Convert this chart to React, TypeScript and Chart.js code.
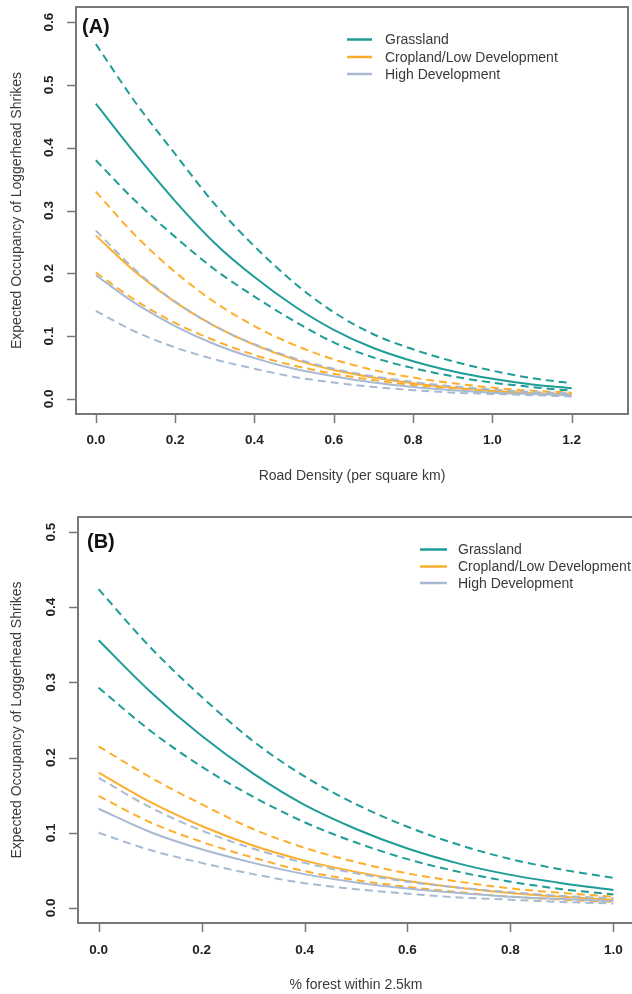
import { useEffect, useRef } from "react";
import { Chart, registerables } from "chart.js";

Chart.register(...registerables);

// ---- Panel A: occupancy vs. road density ----
const ROAD_DENSITY = [0, 0.1, 0.2, 0.3, 0.4, 0.5, 0.6, 0.7, 0.8, 0.9, 1.0, 1.1, 1.2];
const GRASS_ROAD = [0.470, 0.390, 0.315, 0.248, 0.194, 0.148, 0.110, 0.081, 0.060, 0.044, 0.032, 0.023, 0.017];
const GRASS_ROAD_UPPER = [0.565, 0.472, 0.390, 0.310, 0.243, 0.185, 0.138, 0.103, 0.079, 0.060, 0.045, 0.033, 0.025];
const GRASS_ROAD_LOWER = [0.380, 0.315, 0.258, 0.206, 0.163, 0.124, 0.090, 0.066, 0.049, 0.036, 0.026, 0.019, 0.013];
const CROP_ROAD = [0.260, 0.202, 0.154, 0.116, 0.086, 0.063, 0.046, 0.034, 0.025, 0.018, 0.013, 0.009, 0.007];
const CROP_ROAD_UPPER = [0.330, 0.260, 0.202, 0.154, 0.116, 0.086, 0.063, 0.046, 0.034, 0.025, 0.018, 0.013, 0.010];
const CROP_ROAD_LOWER = [0.201, 0.157, 0.121, 0.093, 0.070, 0.053, 0.040, 0.030, 0.022, 0.017, 0.012, 0.009, 0.007];
const HIGH_ROAD = [0.197, 0.152, 0.116, 0.087, 0.065, 0.048, 0.036, 0.026, 0.019, 0.014, 0.010, 0.008, 0.006];
const HIGH_ROAD_UPPER = [0.268, 0.205, 0.155, 0.116, 0.087, 0.065, 0.048, 0.036, 0.027, 0.020, 0.015, 0.011, 0.009];
const HIGH_ROAD_LOWER = [0.140, 0.107, 0.082, 0.063, 0.048, 0.035, 0.026, 0.019, 0.014, 0.010, 0.008, 0.006, 0.004];
const ROAD_TICKS = [0, 0.2, 0.4, 0.6, 0.8, 1.0, 1.2];
const OCC_TICKS_A = [0, 0.1, 0.2, 0.3, 0.4, 0.5, 0.6];

// ---- Panel B: occupancy vs. forest cover ----
const FOREST_COVER = [0, 0.1, 0.2, 0.3, 0.4, 0.5, 0.6, 0.7, 0.8, 0.9, 1.0];
const GRASS_FOREST = [0.356, 0.288, 0.229, 0.179, 0.137, 0.105, 0.079, 0.059, 0.044, 0.033, 0.024];
const GRASS_FOREST_UPPER = [0.424, 0.347, 0.281, 0.222, 0.175, 0.138, 0.108, 0.084, 0.065, 0.051, 0.040];
const GRASS_FOREST_LOWER = [0.293, 0.236, 0.188, 0.148, 0.114, 0.087, 0.065, 0.048, 0.035, 0.025, 0.018];
const CROP_FOREST = [0.180, 0.141, 0.109, 0.083, 0.063, 0.048, 0.036, 0.027, 0.020, 0.015, 0.011];
const CROP_FOREST_UPPER = [0.215, 0.174, 0.138, 0.105, 0.080, 0.061, 0.046, 0.035, 0.026, 0.020, 0.015];
const CROP_FOREST_LOWER = [0.149, 0.114, 0.088, 0.067, 0.049, 0.037, 0.028, 0.021, 0.015, 0.011, 0.008];
const HIGH_FOREST = [0.132, 0.101, 0.078, 0.060, 0.045, 0.034, 0.026, 0.020, 0.015, 0.012, 0.009];
const HIGH_FOREST_UPPER = [0.173, 0.134, 0.103, 0.079, 0.060, 0.046, 0.035, 0.027, 0.021, 0.016, 0.013];
const HIGH_FOREST_LOWER = [0.100, 0.077, 0.060, 0.045, 0.033, 0.025, 0.019, 0.014, 0.011, 0.008, 0.006];
const FOREST_TICKS = [0, 0.2, 0.4, 0.6, 0.8, 1.0];
const OCC_TICKS_B = [0, 0.1, 0.2, 0.3, 0.4, 0.5];

const LAND_COVER = ["Grassland", "Cropland/Low Development", "High Development"];
const Y_TITLE = "Expected Occupancy of Loggerhead Shrikes";

const TEAL = "#1E9C96";
const ORANGE = "#FDAE2C";
const SLATE = "#A8BAD2";
const AXIS = "#777777";
const FONT = '"Liberation Sans", Arial, sans-serif';

type Series = { name: string; color: string; mean: number[]; lo: number[]; hi: number[] };

type PanelSpec = {
  tag: string;
  xTitle: string;
  xs: number[];
  series: Series[];
  xTicks: number[];
  yTicks: number[];
  xMin: number;
  xMax: number;
  yMin: number;
  yMax: number;
  width: number;
  height: number;
  area: { left: number; top: number; right: number; bottom: number };
  legend: { x0: number; x1: number; tx: number; rows: number[] };
  tagPos: { x: number; y: number };
  xLabelY: number;
  xTitleY: number;
  yLabelX: number;
  yTitleX: number;
};

function buildDatasets(spec: PanelSpec) {
  const pts = (arr: number[]) => spec.xs.map((x, i) => ({ x, y: arr[i] }));
  const out: any[] = [];
  // draw order: high development first, grassland on top
  [...spec.series].reverse().forEach((s) => {
    const base = {
      borderColor: s.color,
      backgroundColor: s.color,
      pointRadius: 0,
      fill: false,
      cubicInterpolationMode: "monotone",
    };
    out.push({ ...base, label: s.name + " upper", data: pts(s.hi), borderWidth: 2, borderDash: [8, 5] });
    out.push({ ...base, label: s.name + " lower", data: pts(s.lo), borderWidth: 2, borderDash: [8, 5] });
    out.push({ ...base, label: s.name, data: pts(s.mean), borderWidth: 2 });
  });
  return out;
}

function decorations(spec: PanelSpec) {
  return {
    id: "panelDecor",
    afterDraw(chart: any) {
      const { ctx, chartArea: a } = chart;
      const xs = chart.scales.x;
      const ys = chart.scales.y;
      ctx.save();

      // plot frame
      ctx.strokeStyle = AXIS;
      ctx.lineWidth = 2;
      ctx.strokeRect(a.left, a.top, a.right - a.left, a.bottom - a.top);

      // tick marks
      ctx.lineWidth = 1.5;
      ctx.beginPath();
      spec.xTicks.forEach((v) => {
        const x = Math.round(xs.getPixelForValue(v)) + 0.5;
        ctx.moveTo(x, a.bottom + 1);
        ctx.lineTo(x, a.bottom + 9);
      });
      spec.yTicks.forEach((v) => {
        const y = Math.round(ys.getPixelForValue(v)) + 0.5;
        ctx.moveTo(a.left - 1, y);
        ctx.lineTo(a.left - 9, y);
      });
      ctx.stroke();

      // tick labels
      ctx.fillStyle = "#222";
      ctx.font = `bold 13.5px ${FONT}`;
      ctx.textAlign = "center";
      ctx.textBaseline = "middle";
      spec.xTicks.forEach((v) => {
        ctx.fillText(v.toFixed(1), xs.getPixelForValue(v), spec.xLabelY);
      });
      spec.yTicks.forEach((v) => {
        ctx.save();
        ctx.translate(spec.yLabelX, ys.getPixelForValue(v));
        ctx.rotate(-Math.PI / 2);
        ctx.fillText(v.toFixed(1), 0, 0);
        ctx.restore();
      });

      // axis titles
      ctx.fillStyle = "#3a3a3a";
      ctx.font = `14px ${FONT}`;
      ctx.fillText(spec.xTitle, (a.left + a.right) / 2, spec.xTitleY);
      ctx.save();
      ctx.translate(spec.yTitleX, (a.top + a.bottom) / 2);
      ctx.rotate(-Math.PI / 2);
      ctx.fillText(Y_TITLE, 0, 0);
      ctx.restore();

      // panel tag
      ctx.fillStyle = "#111";
      ctx.font = `bold 20px ${FONT}`;
      ctx.textAlign = "left";
      ctx.textBaseline = "alphabetic";
      ctx.fillText(spec.tag, spec.tagPos.x, spec.tagPos.y);

      // legend
      const lg = spec.legend;
      ctx.font = `14px ${FONT}`;
      ctx.textBaseline = "middle";
      spec.series.forEach((s, i) => {
        const y = lg.rows[i];
        ctx.strokeStyle = s.color;
        ctx.lineWidth = 2.5;
        ctx.beginPath();
        ctx.moveTo(lg.x0, y);
        ctx.lineTo(lg.x1, y);
        ctx.stroke();
        ctx.fillStyle = "#3a3a3a";
        ctx.fillText(s.name, lg.tx, y + 1);
      });

      ctx.restore();
    },
  };
}

function Panel({ spec, top }: { spec: PanelSpec; top: number }) {
  const ref = useRef<HTMLCanvasElement | null>(null);

  useEffect(() => {
    const canvas = ref.current;
    if (!canvas) return;
    const { area } = spec;
    const chart = new Chart(canvas, {
      type: "line",
      data: { datasets: buildDatasets(spec) },
      options: {
        animation: false,
        responsive: false,
        devicePixelRatio: 1,
        layout: { padding: { top: area.top, right: spec.width - area.right, left: 0, bottom: 0 } },
        plugins: { legend: { display: false }, tooltip: { enabled: false } },
        scales: {
          x: {
            type: "linear",
            min: spec.xMin,
            max: spec.xMax,
            grid: { display: false },
            border: { display: false },
            ticks: { display: false },
            afterBuildTicks: (s: any) => {
              s.ticks = spec.xTicks.map((value) => ({ value }));
            },
            afterFit: (s: any) => {
              s.height = spec.height - area.bottom;
            },
          },
          y: {
            type: "linear",
            min: spec.yMin,
            max: spec.yMax,
            grid: { display: false },
            border: { display: false },
            ticks: { display: false },
            afterBuildTicks: (s: any) => {
              s.ticks = spec.yTicks.map((value) => ({ value }));
            },
            afterFit: (s: any) => {
              s.width = area.left;
            },
          },
        },
      } as any,
      plugins: [decorations(spec)],
    });
    return () => chart.destroy();
  }, [spec]);

  return (
    <canvas
      ref={ref}
      width={spec.width}
      height={spec.height}
      style={{ position: "absolute", left: 0, top, width: spec.width, height: spec.height, display: "block" }}
    />
  );
}

const PANEL_A: PanelSpec = {
  tag: "(A)",
  xTitle: "Road Density (per square km)",
  xs: ROAD_DENSITY,
  series: [
    { name: LAND_COVER[0], color: TEAL, mean: GRASS_ROAD, lo: GRASS_ROAD_LOWER, hi: GRASS_ROAD_UPPER },
    { name: LAND_COVER[1], color: ORANGE, mean: CROP_ROAD, lo: CROP_ROAD_LOWER, hi: CROP_ROAD_UPPER },
    { name: LAND_COVER[2], color: SLATE, mean: HIGH_ROAD, lo: HIGH_ROAD_LOWER, hi: HIGH_ROAD_UPPER },
  ],
  xTicks: ROAD_TICKS,
  yTicks: OCC_TICKS_A,
  xMin: -0.05,
  xMax: 1.342,
  yMin: -0.024,
  yMax: 0.624,
  width: 632,
  height: 494,
  area: { left: 76, top: 7, right: 628, bottom: 414 },
  legend: { x0: 347, x1: 372, tx: 385, rows: [39.5, 57, 74] },
  tagPos: { x: 82, y: 33 },
  xLabelY: 440,
  xTitleY: 476,
  yLabelX: 49,
  yTitleX: 17,
};

const PANEL_B: PanelSpec = {
  tag: "(B)",
  xTitle: "% forest within 2.5km",
  xs: FOREST_COVER,
  series: [
    { name: LAND_COVER[0], color: TEAL, mean: GRASS_FOREST, lo: GRASS_FOREST_LOWER, hi: GRASS_FOREST_UPPER },
    { name: LAND_COVER[1], color: ORANGE, mean: CROP_FOREST, lo: CROP_FOREST_LOWER, hi: CROP_FOREST_UPPER },
    { name: LAND_COVER[2], color: SLATE, mean: HIGH_FOREST, lo: HIGH_FOREST_LOWER, hi: HIGH_FOREST_UPPER },
  ],
  xTicks: FOREST_TICKS,
  yTicks: OCC_TICKS_B,
  xMin: -0.04,
  xMax: 1.04,
  yMin: -0.02,
  yMax: 0.52,
  width: 636,
  height: 500,
  area: { left: 78, top: 23, right: 634, bottom: 429 },
  legend: { x0: 420, x1: 447, tx: 458, rows: [55.5, 72.5, 89] },
  tagPos: { x: 87, y: 54 },
  xLabelY: 456,
  xTitleY: 491,
  yLabelX: 51,
  yTitleX: 17,
};

export default function App() {
  return (
    <div
      style={{
        position: "absolute",
        left: 0,
        top: 0,
        width: 632,
        height: 994,
        overflow: "hidden",
        background: "#ffffff",
      }}
    >
      <Panel spec={PANEL_A} top={0} />
      <Panel spec={PANEL_B} top={494} />
    </div>
  );
}
